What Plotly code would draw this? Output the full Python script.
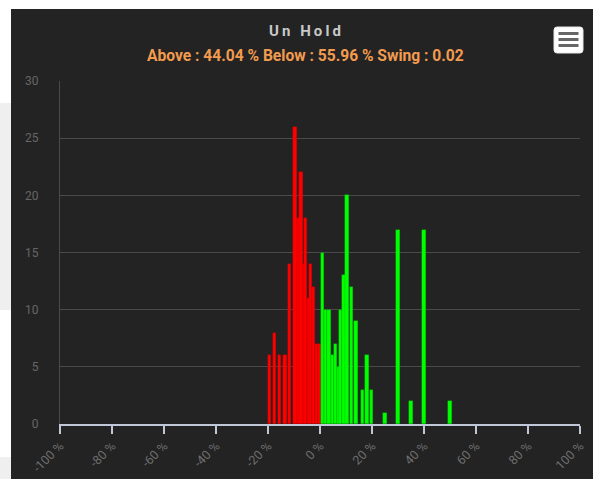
import plotly.graph_objects as go

# ---------------- data ----------------
red_x = [-19.4, -17.5, -15.6, -13.5, -11.6, -9.6, -8.5, -7.3, -6.4, -5.5, -4.4, -3.7, -2.6, -1.4, -0.3]
red_y = [6, 8, 6, 6, 14, 26, 18, 22, 14, 18, 11, 14, 12, 7, 7]
green_x = [0.9, 2.2, 3.5, 4.8, 6.0, 7.0, 8.0, 9.2, 10.4, 12.1, 13.8, 16.3, 18.1, 19.9, 25, 30, 35, 40, 50]
green_y = [15, 10, 10, 6, 7, 5, 10, 13, 20, 12, 9, 3, 6, 3, 1, 17, 2, 17, 2]
x_ticks = [-100, -80, -60, -40, -20, 0, 20, 40, 60, 80, 100]
x_tick_labels = [f"{v} %" for v in x_ticks]
y_ticks = [0, 5, 10, 15, 20, 25, 30]
title_text = "Un Hold"
subtitle_text = "Above : 44.04 % Below : 55.96 % Swing : 0.02"

# ---------------- geometry ----------------
W, H = 595, 479
L, R, T, B = 60, 15, 81, 55
PW, PH = W - L - R, H - T - B


def px(x):
    return (x - L) / PW


def py(y):
    return (H - B - y) / PH


BAR_W = 1.27


def ordered(xs, ys):
    # taller columns drawn last (on top)
    pairs = sorted(zip(xs, ys), key=lambda p: p[1])
    return [p[0] for p in pairs], [p[1] for p in pairs]


def rounded_rect(x0, y0, x1, y1, r):
    pts = [
        f"M{px(x0 + r)},{py(y0)}",
        f"L{px(x1 - r)},{py(y0)}",
        f"Q{px(x1)},{py(y0)} {px(x1)},{py(y0 + r)}",
        f"L{px(x1)},{py(y1 - r)}",
        f"Q{px(x1)},{py(y1)} {px(x1 - r)},{py(y1)}",
        f"L{px(x0 + r)},{py(y1)}",
        f"Q{px(x0)},{py(y1)} {px(x0)},{py(y1 - r)}",
        f"L{px(x0)},{py(y0 + r)}",
        f"Q{px(x0)},{py(y0)} {px(x0 + r)},{py(y0)}",
        "Z",
    ]
    return " ".join(pts)


rx, ry = ordered(red_x, red_y)
gx, gy = ordered(green_x, green_y)

fig = go.Figure()
fig.add_trace(go.Bar(x=rx, y=ry, width=BAR_W, marker=dict(color="#ff0000", line=dict(width=0.5, color="rgba(170,0,0,0.6)")),
                     name="Below", showlegend=False))
fig.add_trace(go.Bar(x=gx, y=gy, width=BAR_W, marker=dict(color="#00ff00", line=dict(width=0.5, color="rgba(0,170,0,0.6)")),
                     name="Above", showlegend=False))

shapes = []
# page strips
shapes.append(dict(type="rect", xref="paper", yref="paper", x0=px(0), x1=px(11), y0=py(310), y1=py(103),
                   fillcolor="#efefef", line=dict(width=0), layer="below"))
shapes.append(dict(type="rect", xref="paper", yref="paper", x0=px(0), x1=px(11), y0=py(479), y1=py(457),
                   fillcolor="#efefef", line=dict(width=0), layer="below"))
# dark chart box
shapes.append(dict(type="rect", xref="paper", yref="paper", x0=px(11), x1=px(593), y0=py(480), y1=py(9),
                   fillcolor="#232323", line=dict(width=0), layer="below"))
# menu button
shapes.append(dict(type="path", xref="paper", yref="paper", path=rounded_rect(554, 27, 583, 53, 3),
                   fillcolor="#ffffff", line=dict(width=1, color="#e6e6e6"), layer="above"))
for ly in (33.5, 39.5, 45.5):
    shapes.append(dict(type="line", xref="paper", yref="paper", x0=px(558.5), x1=px(578.5), y0=py(ly), y1=py(ly),
                       line=dict(width=3, color="#666666"), layer="above"))

annotations = [
    dict(text="<b>" + "\u2009".join(title_text) + "</b>", xref="paper", yref="paper", x=px(305), y=py(31),
         xanchor="center", yanchor="middle", showarrow=False,
         font=dict(family="Roboto", size=15, color="#c8c8c8")),
    dict(text="<b>" + subtitle_text + "</b>", xref="paper", yref="paper", x=px(305.5), y=py(56),
         xanchor="center", yanchor="middle", showarrow=False,
         font=dict(family="Roboto", size=15.6, color="#f29b4f")),
]

fig.update_layout(
    width=W, height=H,
    margin=dict(l=L, r=R, t=T, b=B, pad=0, autoexpand=False),
    paper_bgcolor="#ffffff",
    plot_bgcolor="rgba(0,0,0,0)",
    barmode="overlay",
    bargap=0,
    shapes=shapes,
    annotations=annotations,
    font=dict(family="Roboto", size=12, color="#666666"),
    xaxis=dict(range=[-100, 100], tickvals=x_ticks, ticktext=x_tick_labels, tickangle=-45,
               automargin=False,
               showgrid=False, zeroline=False, showline=True, linecolor="#c0c8d8", linewidth=1.5,
               ticks="outside", ticklen=8, tickwidth=1.5, tickcolor="#c0c8d8",
               tickfont=dict(family="Roboto", size=12.5, color="#6e6e6e")),
    yaxis=dict(range=[0, 30], tickvals=y_ticks, showgrid=True, gridcolor="#4a4a4a", gridwidth=1,
               automargin=False,
               zeroline=False, showline=True, linecolor="#4a4a4a", linewidth=1,
               ticks="", ticklabelstandoff=18,
               tickfont=dict(family="Roboto", size=12, color="#666666")),
)

fig.write_html("out.html", config={"displayModeBar": False},
               post_script="document.body.style.margin='0';document.body.style.overflow='hidden';")
